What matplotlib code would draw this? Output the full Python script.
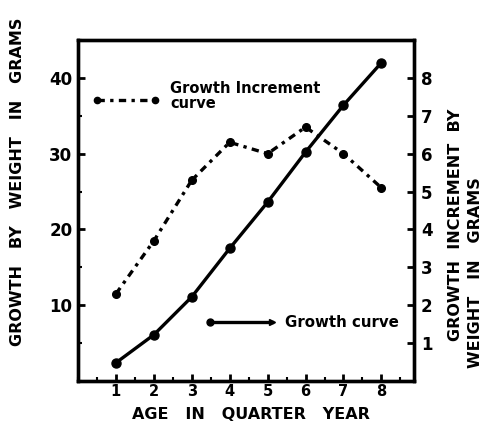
import matplotlib
matplotlib.use("Agg")
import matplotlib.pyplot as plt
from matplotlib.ticker import MultipleLocator

plt.rcParams['font.family'] = ['DejaVu Sans']

age = [1, 2, 3, 4, 5, 6, 7, 8]
growth = [2.4, 6.1, 11.1, 17.5, 23.6, 30.2, 36.4, 42.0]
increment = [2.3, 3.7, 5.3, 6.3, 6.0, 6.7, 6.0, 5.1]
x_ticks = [1, 2, 3, 4, 5, 6, 7, 8]
left_ticks = [10, 20, 30, 40]
right_ticks = [1, 2, 3, 4, 5, 6, 7, 8]

fig = plt.figure(figsize=(4.86, 4.23), dpi=100)
ax = fig.add_axes([78/486, 1-381/423, (414-78)/486, (381-40)/423])
ax2 = ax.twinx()

ax.set_xlim(0, 8.86)
ax.set_ylim(0, 45)
ax2.set_ylim(0, 9)

lw_sp = 2.4
for a in (ax, ax2):
    for s in a.spines.values():
        s.set_linewidth(lw_sp)

dash = (0, (2.2, 1.6, 1.0, 1.6))
# growth curve (left axis)
ax.plot(age, growth, color='black', lw=2.4, marker='o', ms=6.5, solid_capstyle='round')
# increment curve (right axis)
ax2.plot(age, increment, color='black', lw=2.4, linestyle=dash, marker='o', ms=5.5)

ax.set_xticks(x_ticks)
ax.xaxis.set_minor_locator(MultipleLocator(0.5))
ax.set_yticks(left_ticks)
ax.yaxis.set_minor_locator(MultipleLocator(5))
ax2.set_yticks(right_ticks)

tickfont = dict(fontsize=12, fontweight='bold')
ax.set_xticklabels([str(v) for v in x_ticks], fontsize=10.5, fontweight='bold')
ax.set_yticklabels([str(v) for v in left_ticks], **tickfont)
ax2.set_yticklabels([str(v) for v in right_ticks], **tickfont)

ax.tick_params(axis='both', which='major', direction='in', length=5, width=2, pad=4)
ax.tick_params(axis='both', which='minor', direction='in', length=3, width=1.5)
ax.tick_params(axis='x', which='major', pad=2)
ax2.tick_params(axis='y', which='major', direction='in', length=5, width=2, pad=5)

lab = dict(fontsize=11.5, fontweight='bold')
fig.text(18/486, 1-182/423, 'GROWTH   BY   WEIGHT   IN   GRAMS', rotation=90,
         ha='center', va='center', **lab)
fig.text(251/486, 1-414/423, 'AGE   IN   QUARTER   YEAR', ha='center', va='center',
         fontsize=11.5, fontweight='bold')
fig.text(455/486, 1-225/423, 'GROWTH  INCREMENT  BY', rotation=90,
         ha='center', va='center', **lab)
fig.text(475/486, 1-273/423, 'WEIGHT   IN   GRAMS', rotation=90,
         ha='center', va='center', **lab)

# in-plot legends
ax.plot([0.5, 2.03], [37.1, 37.1], color='black', lw=2.4, linestyle=dash)
ax.plot([0.5, 2.03], [37.1, 37.1], color='black', lw=0, marker='o', ms=4.5,
        markevery=[0, 1])
ax.text(2.43, 37.6, 'Growth Increment\ncurve', fontsize=10.5, fontweight='bold',
        ha='left', va='center', linespacing=1.0)
ax2.plot([3.48, 5.12], [1.55, 1.55], color='black', lw=2.4)
ax2.plot([3.48], [1.55], color='black', marker='o', ms=5)
ax2.plot([5.12], [1.55], color='black', marker='>', ms=5)
ax2.text(5.46, 1.55, 'Growth curve', fontsize=10.8, fontweight='bold',
         ha='left', va='center')

fig.savefig('out.png', dpi=100)
